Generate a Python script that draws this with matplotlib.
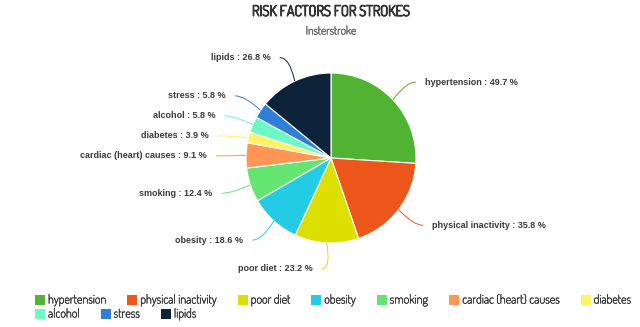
import matplotlib
matplotlib.use("Agg")
import matplotlib.pyplot as plt
import matplotlib.patheffects as pe
import numpy as np
from matplotlib.path import Path
from matplotlib.patches import PathPatch, Rectangle

# data
factors = ["hypertension", "physical inactivity", "poor diet", "obesity", "smoking",
           "cardiac (heart) causes", "diabetes", "alcohol", "stress", "lipids"]
shares = [49.7, 35.8, 23.2, 18.6, 12.4, 9.1, 3.9, 5.8, 5.8, 26.8]
colors = ["#50B432", "#ED561B", "#DDDF00", "#24CBE5", "#64E572",
          "#FF9655", "#FFF263", "#6AF9C4", "#2F7ED8", "#0D233A"]

title = "RISK FACTORS FOR STROKES"
subtitle = "Insterstroke"

# layout in pixels (axes spans whole figure, y goes down)
W, H = 640, 327
cx, cy, r = 331, 158, 85
label_r = 111
min_gap = 20


def heavier(color, lw):
    # Dosis only ships a light weight here, so thicken it with a stroke
    return [pe.withStroke(linewidth=lw, foreground=color)]


fig = plt.figure(figsize=(W / 100, H / 100), dpi=100)
ax = fig.add_axes([0, 0, 1, 1])
wedges, _ = ax.pie(shares, colors=colors, startangle=270, counterclock=True,
                   center=(cx, cy), radius=r,
                   wedgeprops=dict(edgecolor="white", linewidth=0.8))
ax.set_xlim(0, W)
ax.set_ylim(H, 0)
ax.set_aspect("auto")
ax.axis("off")

# title
ax.text(cx, 12, title, ha="center", va="center", fontsize=10.5,
        family="Dosis", color="#333333", path_effects=heavier("#333333", 0.9))
ax.text(cx, 31, subtitle, ha="center", va="center", fontsize=8.3,
        family="Dosis", color="#666666", path_effects=heavier("#666666", 0.35))

# data labels with connectors
labels = []
for i, w in enumerate(wedges):
    m = np.deg2rad((w.theta1 + w.theta2) / 2)
    side = 1 if np.cos(m) >= 0 else -1
    ly = cy + label_r * np.sin(m)
    labels.append([i, m, side, ly])

for s in (1, -1):
    grp = sorted([l for l in labels if l[2] == s], key=lambda l: l[3])
    for a, b in zip(grp, grp[1:]):
        if b[3] - a[3] < min_gap:
            b[3] = a[3] + min_gap

for i, m, side, ly in labels:
    dy = ly - cy
    xc = cx + side * np.sqrt(max(label_r ** 2 - dy ** 2, 0))
    p0 = (cx + r * np.cos(m), cy + r * np.sin(m))
    p2 = (xc + side * 4, ly)
    ctrl = (p2[0] - side * 10, ly)
    path = Path([p0, ctrl, p2], [Path.MOVETO, Path.CURVE3, Path.CURVE3])
    ax.add_patch(PathPatch(path, fill=False, edgecolor=colors[i], linewidth=0.7))
    ax.text(xc + side * 13, ly, f"{factors[i]} : {shares[i]} %",
            ha="left" if side > 0 else "right", va="center",
            fontsize=6.5, fontweight="bold", family="Liberation Sans", color="#3a3a3a")

# legend, laid out like a flowing html legend
fig.canvas.draw()
renderer = fig.canvas.get_renderer()
x0, row_y, row_h = 35, 300, 14
sq, pad, spacing = 10, 3, 21
x = x0
for name, col in zip(factors, colors):
    t = ax.text(x + sq + pad, row_y, name, ha="left", va="center", fontsize=8.8,
                family="Dosis", color="#333333", path_effects=heavier("#333333", 0.3))
    bb = t.get_window_extent(renderer)
    if bb.x1 > W:
        x = x0
        row_y += row_h
        t.set_position((x + sq + pad, row_y))
        bb = t.get_window_extent(renderer)
    ax.add_patch(Rectangle((x, row_y - sq / 2), sq, sq, facecolor=col, edgecolor="none"))
    x = bb.x1 + spacing

fig.savefig("out.png", dpi=100)
